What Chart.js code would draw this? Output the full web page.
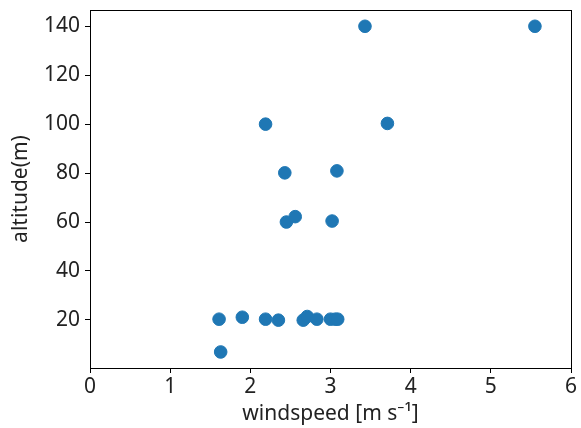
<!DOCTYPE html>
<html>
<head>
<meta charset="utf-8">
<script src="https://cdn.jsdelivr.net/npm/chart.js@4/dist/chart.umd.min.js"></script>
<style>
  body { margin: 0; background: #fff; }
  #wrap { width: 581px; height: 428px; }
</style>
</head>
<body>
<div id="wrap"><canvas id="scatterChart" width="581" height="428"></canvas></div>
<script>
// wind speed (m/s) and altitude (m)
var windspeed = [1.61, 1.63, 1.90, 2.19, 2.35, 2.66, 2.71, 2.83, 3.00, 3.06, 3.09,
                 2.45, 2.56, 3.02, 2.43, 3.08, 2.19, 3.71, 3.43, 5.55];
var altitude  = [20.3, 6.9, 21.1, 20.3, 19.9, 19.9, 21.4, 20.3, 20.3, 20.3, 20.3,
                 60.0, 62.2, 60.4, 80.1, 80.9, 100.0, 100.3, 140.0, 140.0];
var xTicks = [0, 1, 2, 3, 4, 5, 6];
var yTicks = [20, 40, 60, 80, 100, 120, 140];

var points = [];
for (var i = 0; i < windspeed.length; i++) {
    points.push({ x: windspeed[i], y: altitude[i] });
}

var fontFamily = '"Noto Sans", sans-serif';

// cadre complet autour de la zone du graphique
var boxPlugin = {
    id: 'box',
    afterDraw: function (chart) {
        var a = chart.chartArea;
        var ctx = chart.ctx;
        ctx.save();
        ctx.strokeStyle = '#000';
        ctx.lineWidth = 1;
        ctx.strokeRect(Math.round(a.left) + 0.5, Math.round(a.top) + 0.5,
                       Math.round(a.right - a.left), Math.round(a.bottom - a.top));
        ctx.restore();
    }
};

var ctx = document.getElementById('scatterChart').getContext('2d');
var windChart = new Chart(ctx, {
    type: 'scatter',
    data: {
        datasets: [{
            data: points,
            backgroundColor: '#1f77b4',
            borderColor: '#1f77b4',
            pointRadius: 6.3,
            pointHoverRadius: 6.3
        }]
    },
    options: {
        responsive: false,
        animation: false,
        layout: { padding: { top: 10, right: 10, left: 0, bottom: 0 } },
        plugins: { legend: { display: false }, tooltip: { enabled: false } },
        scales: {
            x: {
                type: 'linear',
                min: 0,
                max: 6,
                afterBuildTicks: function (scale) {
                    scale.ticks = xTicks.map(function (v) { return { value: v }; });
                },
                afterFit: function (scale) {
                    scale.height = 60;
                    scale.paddingLeft = 0;
                    scale.paddingRight = 0;
                },
                grid: { display: true, drawOnChartArea: false, tickLength: 5, color: '#000' },
                border: { display: true, color: '#000' },
                ticks: { color: '#222', font: { family: fontFamily, size: 21 }, padding: 1, maxRotation: 0 },
                title: {
                    display: true,
                    text: 'windspeed [m s⁻¹]',
                    color: '#222',
                    font: { family: fontFamily, size: 21 },
                    padding: { top: 0, bottom: 1 }
                }
            },
            y: {
                type: 'linear',
                min: 0.35,
                max: 146.65,
                afterBuildTicks: function (scale) {
                    scale.ticks = yTicks.map(function (v) { return { value: v }; });
                },
                afterFit: function (scale) {
                    scale.width = 90;
                    scale.paddingTop = 0;
                    scale.paddingBottom = 0;
                },
                grid: { display: true, drawOnChartArea: false, tickLength: 5, color: '#000' },
                border: { display: true, color: '#000' },
                ticks: { color: '#222', font: { family: fontFamily, size: 21 }, padding: 5 },
                title: {
                    display: true,
                    text: 'altitude(m)',
                    color: '#222',
                    font: { family: fontFamily, size: 21 },
                    padding: { top: 8, bottom: 0 }
                }
            }
        }
    },
    plugins: [boxPlugin]
});
</script>
</body>
</html>
